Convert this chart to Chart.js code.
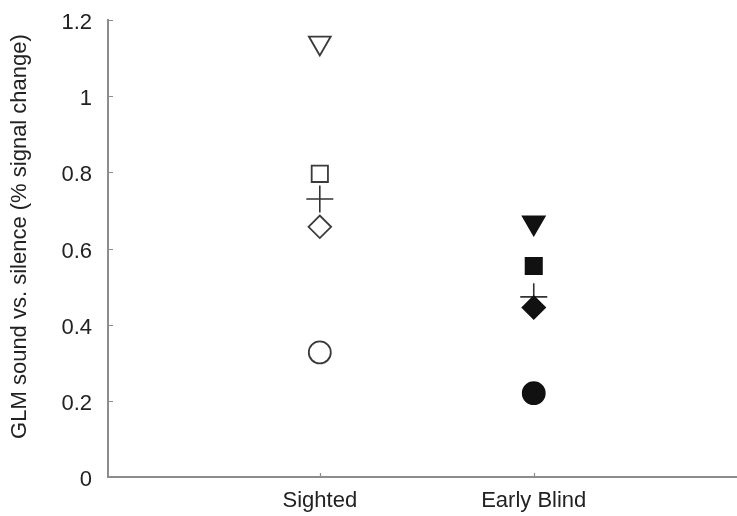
<!DOCTYPE html>
<html>
<head>
<meta charset="utf-8">
<script src="https://cdn.jsdelivr.net/npm/chart.js@4/dist/chart.umd.min.js"></script>
<style>
  html, body { margin: 0; padding: 0; background: #fff; overflow: hidden; }
  #wrap { width: 737px; height: 516px; }
</style>
</head>
<body>
<div id="wrap"><canvas id="c" width="737" height="516"></canvas></div>
<script>
// Groups on the x axis (positions 1 and 2)
const groups = ['Sighted', 'Early Blind'];
const groupPos = [1, 2];

// Per-subject values (% signal change), one entry per group
const subjTriangle = [1.14, 0.668];
const subjSquare   = [0.796, 0.554];
const subjDiamond  = [0.657, 0.445];
const subjCircle   = [0.327, 0.22];
// Group means
const groupMean    = [0.73, 0.473];

const yTicks = [0, 0.2, 0.4, 0.6, 0.8, 1, 1.2];
const yTickLabels = ['0', '0.2', '0.4', '0.6', '0.8', '1', '1.2'];
const yTitle = 'GLM sound vs. silence (% signal change)';

const FONT = "'Liberation Sans', Arial, Helvetica, sans-serif";
const INK = '#222';
const AXIS = '#8c8c8c';

// open markers for sighted, filled for early blind
const fills = ['#ffffff', '#111111'];
const strokes = ['#3a3a3a', '#111111'];

const pts = vals => vals.map((v, i) => ({ x: groupPos[i], y: v }));

function markerSet(vals, style, radius, extra) {
  return Object.assign({
    data: pts(vals),
    pointStyle: style,
    pointRadius: radius,
    pointBackgroundColor: fills,
    pointBorderColor: strokes,
    pointBorderWidth: 1.8,
    showLine: false
  }, extra || {});
}

// no extra edge padding from tick labels: the plot box fills the given space
function fixBox(s) {
  s.paddingTop = 0;
  s.paddingBottom = 0;
  s.paddingLeft = 0;
  s.paddingRight = 0;
}

// small inward tick marks on both axes, plus the rotated y-axis title
const axisExtras = {
  id: 'axisExtras',
  afterDraw(chart) {
    const { ctx, chartArea, scales } = chart;
    ctx.save();
    ctx.strokeStyle = AXIS;
    ctx.lineWidth = 1.2;
    ctx.beginPath();
    yTicks.forEach(v => {
      const py = Math.round(scales.y.getPixelForValue(v)) + 0.5;
      ctx.moveTo(chartArea.left, py);
      ctx.lineTo(chartArea.left + 5, py);
    });
    groupPos.forEach(v => {
      const px = Math.round(scales.x.getPixelForValue(v)) + 0.5;
      ctx.moveTo(px, chartArea.bottom);
      ctx.lineTo(px, chartArea.bottom - 4);
    });
    ctx.stroke();

    ctx.translate(20, (chartArea.top + chartArea.bottom) / 2 - 12);
    ctx.rotate(-Math.PI / 2);
    ctx.fillStyle = INK;
    ctx.font = "22px " + FONT;
    ctx.textAlign = 'center';
    ctx.textBaseline = 'middle';
    ctx.fillText(yTitle, 0, 0);
    ctx.restore();
  }
};

new Chart(document.getElementById('c'), {
  type: 'scatter',
  data: {
    datasets: [
      markerSet(subjTriangle, 'triangle', 12.6, { pointRotation: 180 }),
      markerSet(subjSquare, 'rect', 11.5),
      markerSet(subjDiamond, 'rectRot', 11.3),
      markerSet(subjCircle, 'circle', 11),
      {
        data: pts(groupMean),
        pointStyle: 'cross',
        pointRadius: 13.5,
        pointBorderColor: '#333333',
        pointBorderWidth: 1.6,
        showLine: false
      }
    ]
  },
  options: {
    responsive: false,
    animation: false,
    events: [],
    layout: { autoPadding: false, padding: { top: 20, left: 0, right: 0, bottom: 0 } },
    plugins: { legend: { display: false }, tooltip: { enabled: false } },
    scales: {
      x: {
        type: 'linear',
        min: 0.01,
        max: 2.95,
        afterFit: s => { s.height = 39; fixBox(s); },
        afterBuildTicks: s => { s.ticks = groupPos.map(v => ({ value: v })); },
        grid: { display: true, drawOnChartArea: false, drawTicks: false },
        border: { display: true, color: AXIS, width: 2 },
        ticks: {
          padding: 11,
          maxRotation: 0,
          autoSkip: false,
          color: INK,
          font: { family: FONT, size: 22 },
          callback: v => groups[groupPos.indexOf(v)] ?? ''
        }
      },
      y: {
        min: 0,
        max: 1.2,
        afterFit: s => { s.width = 108; fixBox(s); },
        afterBuildTicks: s => { s.ticks = yTicks.map(v => ({ value: v })); },
        grid: { display: true, drawOnChartArea: false, drawTicks: false },
        border: { display: true, color: AXIS, width: 2 },
        ticks: {
          padding: 16,
          labelOffset: 3,
          color: INK,
          font: { family: FONT, size: 22 },
          callback: v => yTickLabels[yTicks.indexOf(v)] ?? ''
        }
      }
    }
  },
  plugins: [axisExtras]
});
</script>
</body>
</html>
